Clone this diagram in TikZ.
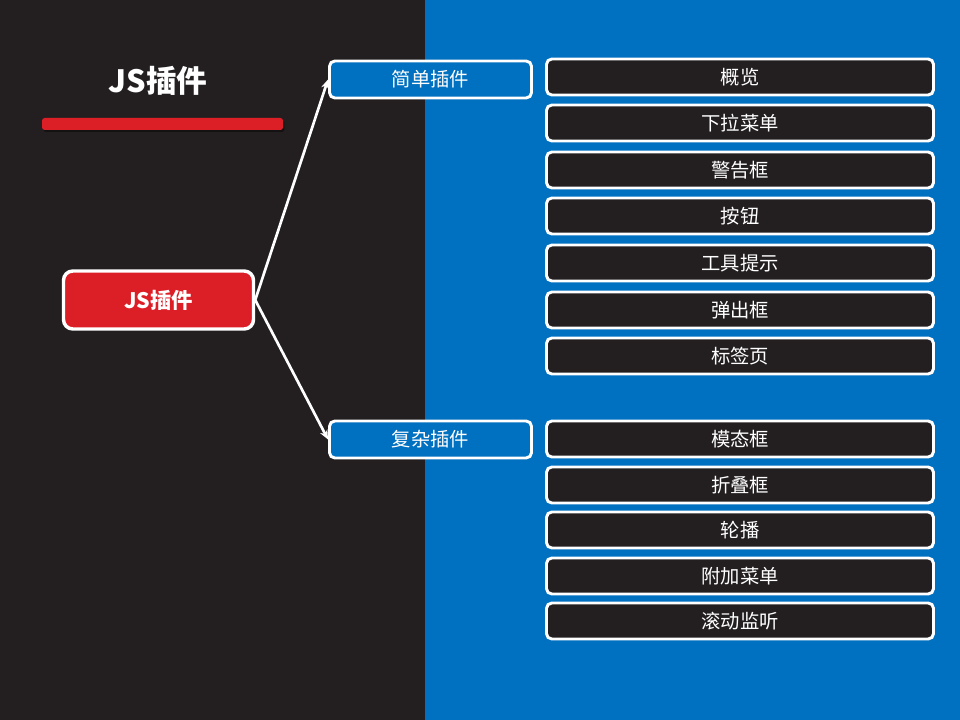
\documentclass[tikz,border=0pt]{standalone}
\usepackage{fontspec}
\setmainfont{Noto Sans CJK SC}
\usetikzlibrary{shadows,arrows.meta}
\definecolor{darkbg}{HTML}{231F20}
\definecolor{bluebg}{HTML}{0070C0}
\definecolor{redfill}{HTML}{DC1E26}
\newlength{\pxu}
\setlength{\pxu}{0.75pt}
\tikzset{
  itembox/.style={draw=white, line width=2.2pt, fill=darkbg, rounded corners=4pt,
    minimum width=387\pxu, minimum height=36\pxu, text=white, font=\fontsize{14.5}{16}\selectfont, inner sep=0pt},
  groupbox/.style={draw=white, line width=2.2pt, fill=bluebg, rounded corners=4pt,
    minimum width=202\pxu, minimum height=37\pxu, text=white, font=\fontsize{14.5}{16}\selectfont, inner sep=0pt},
  rootbox/.style={draw=white, line width=2.6pt, fill=redfill, rounded corners=7pt,
    minimum width=190\pxu, minimum height=58\pxu, text=white, font=\bfseries\fontsize{16}{18}\selectfont, inner sep=0pt},
  link/.style={draw=white, line width=2pt, -{Stealth[length=7pt,width=6pt]}},
}
\begin{document}
\begin{tikzpicture}[x=0.75pt,y=-0.75pt]
  % backgrounds
  \fill[darkbg] (0,0) rectangle (425,720);
  \fill[bluebg] (425,0) rectangle (960,720);
  \useasboundingbox (0,0) rectangle (960,720);

  % title and underline bar
  \node[text=white, font=\bfseries\fontsize{23}{26}\selectfont] (title) at (158,81) {JS插件};
  \fill[redfill, rounded corners=2pt,
        drop shadow={shadow xshift=1pt, shadow yshift=-1.5pt, fill=black, opacity=0.45}]
    (42,118) rectangle (283,130);

  % root node
  \node[rootbox] (root) at (158.5,300) {JS插件};

  % group nodes
  \node[groupbox] (simple) at (430.5,79.5) {简单插件};
  \node[groupbox] (complex) at (430.5,439.5) {复杂插件};

  \draw[link] (root.east) -- (simple.west);
  \draw[link] (root.east) -- (complex.west);

  % simple plugins
  \node[itembox] (s1) at (740,77) {概览};
  \node[itembox] (s2) at (740,123) {下拉菜单};
  \node[itembox] (s3) at (740,170) {警告框};
  \node[itembox] (s4) at (740,216) {按钮};
  \node[itembox] (s5) at (740,263) {工具提示};
  \node[itembox] (s6) at (740,310) {弹出框};
  \node[itembox] (s7) at (740,356) {标签页};

  % complex plugins
  \node[itembox] (c1) at (740,439) {模态框};
  \node[itembox] (c2) at (740,485) {折叠框};
  \node[itembox] (c3) at (740,530) {轮播};
  \node[itembox] (c4) at (740,576) {附加菜单};
  \node[itembox] (c5) at (740,621) {滚动监听};
\end{tikzpicture}
\end{document}
